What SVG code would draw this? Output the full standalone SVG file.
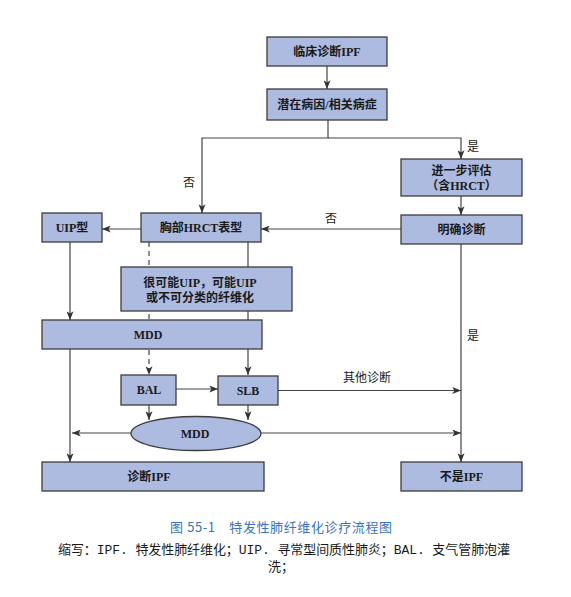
<svg xmlns="http://www.w3.org/2000/svg" width="571" height="597" viewBox="0 0 571 597">
<defs>
<style>
.box{fill:#adbbe0;stroke:#3c3c3c;stroke-width:1.3}
.bt{font-family:"Liberation Serif","Noto Sans CJK SC",serif;font-size:12px;font-weight:bold;fill:#1a1a1a;text-anchor:middle;dominant-baseline:central}
.lb{font-family:"Liberation Serif","Noto Sans CJK SC",serif;font-size:12px;fill:#1a1a1a;text-anchor:middle;dominant-baseline:central}
.ln{fill:none;stroke:#444;stroke-width:1.2}
.dash{stroke-dasharray:5,4}
.cap{font-family:"Noto Sans CJK SC",sans-serif;font-size:13px;fill:#3a72c0;text-anchor:middle}
.abbr{font-family:"Liberation Mono","Noto Sans CJK SC",monospace;font-size:13px;fill:#1a1a1a;text-anchor:middle}
</style>
<marker id="ah" viewBox="0 0 10 8" refX="10" refY="4" markerWidth="9" markerHeight="7" markerUnits="userSpaceOnUse" orient="auto">
<path d="M0,0 L10,4 L0,8 L2.5,4 Z" fill="#333"/>
</marker>
</defs>
<rect width="571" height="597" fill="#fff"/>
<g id="connectors">
<path class="ln" d="M327,66 V89" marker-end="url(#ah)"/>
<path class="ln" d="M328,120 V138 H202 V213" marker-end="url(#ah)"/>
<path class="ln" d="M328,138 H461 V159" marker-end="url(#ah)"/>
<path class="ln" d="M461,196 V215" marker-end="url(#ah)"/>
<path class="ln" d="M401,229 H261" marker-end="url(#ah)"/>
<path class="ln" d="M141,229 H102" marker-end="url(#ah)"/>
<path class="ln" d="M70,242 V320" marker-end="url(#ah)"/>
<path class="ln dash" d="M149,242 V375" marker-end="url(#ah)"/>
<path class="ln" d="M248,242 V375" marker-end="url(#ah)"/>
<path class="ln" d="M176,389 H218" marker-end="url(#ah)"/>
<path class="ln" d="M278,390.5 H461" marker-end="url(#ah)"/>
<path class="ln" d="M461,244 V462" marker-end="url(#ah)"/>
<path class="ln" d="M149,405 V420" marker-end="url(#ah)"/>
<path class="ln" d="M248,405 V420" marker-end="url(#ah)"/>
<path class="ln" d="M131,433 H72" marker-end="url(#ah)"/>
<path class="ln" d="M261,433 H461" marker-end="url(#ah)"/>
<path class="ln" d="M70,349 V462" marker-end="url(#ah)"/>
<text class="lb" x="473" y="147">是</text>
<text class="lb" x="189" y="183">否</text>
<text class="lb" x="331" y="219">否</text>
<text class="lb" x="367" y="378">其他诊断</text>
<text class="lb" x="473" y="336">是</text>
</g>
<g id="n1"><rect class="box" x="267" y="37" width="120" height="29"/><text class="bt" x="327" y="51.5">临床诊断IPF</text></g>
<g id="n2"><rect class="box" x="267" y="89" width="120" height="31"/><text class="bt" x="327" y="104.5">潜在病因/相关病症</text></g>
<g id="n3"><rect class="box" x="401" y="159" width="121" height="37"/><text class="bt" x="461.5" y="171">进一步评估</text><text class="bt" x="461.5" y="186">（含HRCT）</text></g>
<g id="n4"><rect class="box" x="401" y="215" width="121" height="29"/><text class="bt" x="461.5" y="229.5">明确诊断</text></g>
<g id="n5"><rect class="box" x="141" y="213" width="120" height="29"/><text class="bt" x="201" y="227.5">胸部HRCT表型</text></g>
<g id="n6"><rect class="box" x="42" y="213" width="60" height="29"/><text class="bt" x="72" y="227.5">UIP型</text></g>
<g id="n7"><rect class="box" x="121" y="267" width="171" height="44"/><text class="bt" x="200" y="283">很可能UIP，可能UIP</text><text class="bt" x="200" y="297.5">或不可分类的纤维化</text></g>
<g id="n8"><rect class="box" x="42" y="320" width="220" height="29"/><text class="bt" x="148" y="334.5">MDD</text></g>
<g id="n9"><rect class="box" x="121" y="375" width="55" height="30"/><text class="bt" x="149" y="390">BAL</text></g>
<g id="n10"><rect class="box" x="218" y="376" width="60" height="29"/><text class="bt" x="248" y="390.5">SLB</text></g>
<g id="n11"><ellipse class="box" cx="196" cy="433.5" rx="65" ry="17"/><text class="bt" x="195" y="434">MDD</text></g>
<g id="n12"><rect class="box" x="42" y="462" width="222" height="29"/><text class="bt" x="149" y="476.5">诊断IPF</text></g>
<g id="n13"><rect class="box" x="401" y="462" width="121" height="29"/><text class="bt" x="461.5" y="476.5">不是IPF</text></g>
<g id="caption">
<text class="cap" x="281" y="532" textLength="222" lengthAdjust="spacing">图 55-1　特发性肺纤维化诊疗流程图</text>
<text class="abbr" x="284" y="554" textLength="452" lengthAdjust="spacing">缩写：IPF. 特发性肺纤维化；UIP. 寻常型间质性肺炎；BAL. 支气管肺泡灌</text>
<text class="abbr" x="281" y="571">洗；</text>
</g>
</svg>
